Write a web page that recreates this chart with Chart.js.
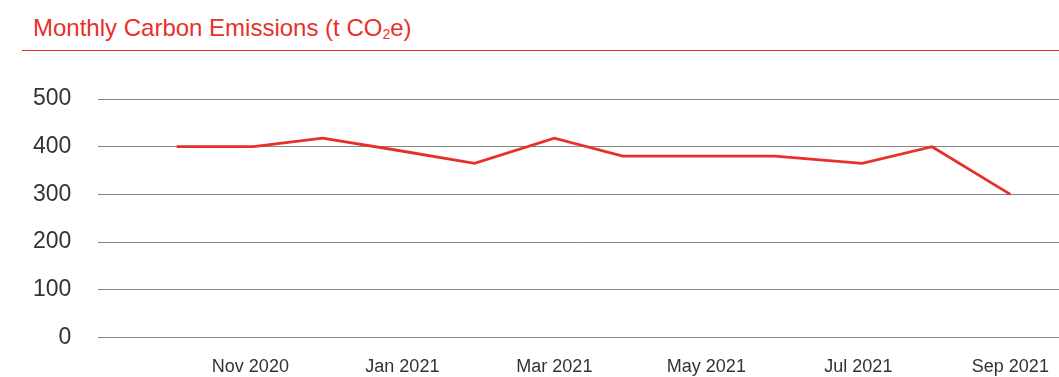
<!DOCTYPE html>
<html>
<head>
<meta charset="utf-8">
<script src="https://cdn.jsdelivr.net/npm/chart.js@4"></script>
<style>
  html, body { margin: 0; padding: 0; background: #fff; }
  body { width: 1059px; height: 377px; position: relative; overflow: hidden; font-family: "Liberation Sans", Arial, sans-serif; }
  #title {
    position: absolute; left: 33px; top: 15px;
    color: #e8302a; font-size: 24px; line-height: 26px; white-space: nowrap;
  }
  #title sub { font-size: 14px; vertical-align: -3px; line-height: 0; }
  #rule { position: absolute; left: 22px; right: 0; top: 50px; height: 0; border-top: 1px solid #e8302a; }
  #wrap { position: absolute; left: 0; top: 0; width: 1059px; height: 397px; }
</style>
</head>
<body>
<div id="title">Monthly Carbon Emissions (t CO<sub>2</sub>e)</div>
<div id="rule"></div>
<div id="wrap"><canvas id="emissionsChart"></canvas></div>
<script>
// Months Oct 2020 - Sep 2021 (0 = Oct 2020)
var months = ['Oct 2020', 'Nov 2020', 'Dec 2020', 'Jan 2021', 'Feb 2021', 'Mar 2021',
              'Apr 2021', 'May 2021', 'Jun 2021', 'Jul 2021', 'Aug 2021', 'Sep 2021'];
var monthPos = [0.03, 1.04, 1.95, 2.95, 3.95, 5.0, 5.9, 6.9, 7.9, 9.05, 9.97, 11.0];
var emissions = [400, 400, 418, 392, 365, 418, 380, 380, 380, 365, 400, 300];

// x-axis tick labels and their positions
var tickPos = [1, 3, 5, 7, 9, 11];
var tickLabels = ['Nov 2020', 'Jan 2021', 'Mar 2021', 'May 2021', 'Jul 2021', 'Sep 2021'];

var points = [];
for (var i = 0; i < emissions.length; i++) {
    points.push({ x: monthPos[i], y: emissions[i] });
}

var ctx = document.getElementById('emissionsChart').getContext('2d');
window.emissionsChartInstance = new Chart(ctx, {
    type: 'line',
    data: {
        datasets: [{
            label: 'Carbon Emissions',
            data: points,
            borderColor: '#e8302a',
            borderWidth: 2.8,
            pointRadius: 0,
            tension: 0,
            fill: false
        }]
    },
    options: {
        responsive: true,
        maintainAspectRatio: false,
        animation: false,
        layout: { padding: { top: 99, right: 0, bottom: 0, left: 6 } },
        plugins: {
            legend: { display: false },
            tooltip: { enabled: false }
        },
        scales: {
            x: {
                type: 'linear',
                min: -1,
                max: 11.64,
                afterBuildTicks: function (axis) {
                    axis.ticks = tickPos.map(function (v) { return { value: v }; });
                },
                afterFit: function (axis) {
                    // let the plot run to the right edge
                    axis.paddingRight = 0;
                    axis.paddingLeft = 0;
                },
                ticks: {
                    autoSkip: false,
                    maxRotation: 0,
                    padding: 19,
                    color: '#333',
                    font: { family: 'Liberation Sans', size: 18 },
                    callback: function (value) {
                        var idx = tickPos.indexOf(value);
                        return idx >= 0 ? tickLabels[idx] : '';
                    }
                },
                grid: { display: false, drawTicks: false },
                border: { display: false }
            },
            y: {
                min: 0,
                max: 500,
                ticks: {
                    stepSize: 100,
                    padding: 27,
                    color: '#333',
                    font: { family: 'Liberation Sans', size: 23 }
                },
                grid: { color: '#858585', lineWidth: 1, drawTicks: false },
                border: { display: false }
            }
        }
    }
});
</script>
</body>
</html>
